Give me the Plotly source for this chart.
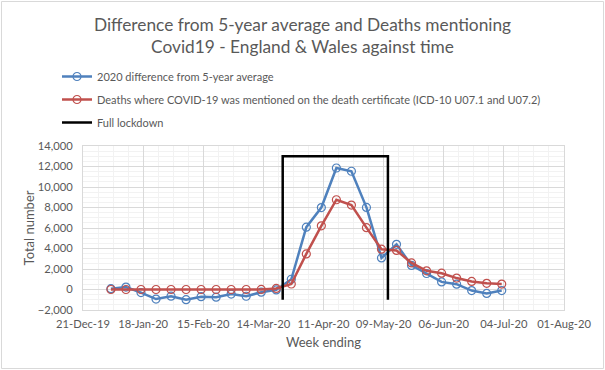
import plotly.graph_objects as go

# ---- data ----
week_ending = [
    "2020-01-03", "2020-01-10", "2020-01-17", "2020-01-24", "2020-01-31",
    "2020-02-07", "2020-02-14", "2020-02-21", "2020-02-28", "2020-03-06",
    "2020-03-13", "2020-03-20", "2020-03-27", "2020-04-03", "2020-04-10",
    "2020-04-17", "2020-04-24", "2020-05-01", "2020-05-08", "2020-05-15",
    "2020-05-22", "2020-05-29", "2020-06-05", "2020-06-12", "2020-06-19",
    "2020-06-26", "2020-07-03",
]
diff_5yr_avg = [
    79, 236, -300, -930, -650, -990, -700, -750, -450, -660,
    -260, -40, 1000, 6082, 7996, 11854, 11539, 8012, 3081, 4410,
    2350, 1560, 740, 520, -100, -380, -100,
]
covid_deaths = [
    0, 0, 0, 0, 0, 0, 0, 0, 0, 0,
    5, 103, 539, 3475, 6213, 8758, 8237, 6035, 3930, 3810,
    2589, 1822, 1588, 1114, 783, 606, 532,
]
lockdown_x = ["2020-03-23", "2020-03-23", "2020-05-11", "2020-05-11"]
lockdown_y = [-1000, 13000, 13000, -1000]

y_ticks = [-2000, 0, 2000, 4000, 6000, 8000, 10000, 12000, 14000]

# ---- style ----
W, H = 605, 370
ML, MR, MT, MB = 83, 41, 146, 60
TXT = "#595959"
GRID = "#d9d9d9"
MINOR = "#f2f2f2"
FONT = "Lato"
DAY = 86400000

fig = go.Figure()
fig.add_trace(go.Scatter(
    x=week_ending, y=diff_5yr_avg, mode="lines+markers",
    name="2020 difference from 5-year average", legendgroup="a",
    line=dict(color="#4F81BD", width=2.5),
    marker=dict(symbol="circle-open", size=8, color="#4F81BD", line=dict(width=1.2)),
))
fig.add_trace(go.Scatter(
    x=week_ending, y=covid_deaths, mode="lines+markers",
    name="Deaths where COVID-19 was mentioned on the death certificate (ICD-10 U07.1 and U07.2)",
    legendgroup="b",
    line=dict(color="#C0504D", width=2.5),
    marker=dict(symbol="circle-open", size=8, color="#C0504D", line=dict(width=1.2)),
))
fig.add_trace(go.Scatter(
    x=lockdown_x, y=lockdown_y, mode="lines", name="Full lockdown", legendgroup="c",
    line=dict(color="#000000", width=2.5),
))

pw = W - ML - MR
ph = H - MT - MB
fig.add_shape(
    type="rect", xref="paper", yref="paper",
    x0=(1.5 - ML) / pw, x1=(W - 1.5 - ML) / pw,
    y0=(ph + MT - (H - 1.5)) / ph, y1=(ph + MT - 1.5) / ph,
    line=dict(color=GRID, width=1), fillcolor="rgba(0,0,0,0)", layer="below",
)

fig.update_layout(
    width=W, height=H,
    margin=dict(l=ML, r=MR, t=MT, b=MB, autoexpand=False),
    paper_bgcolor="white", plot_bgcolor="white",
    font=dict(family=FONT, size=11, color=TXT),
    title=dict(
        text="Difference from 5-year average and Deaths mentioning<br>Covid19 - England & Wales against time",
        x=0.5, xref="container", xanchor="center",
        y=1 - 31 / H, yref="container", yanchor="top",
        font=dict(family=FONT, size=17.3, color=TXT),
        automargin=False,
    ),
    showlegend=True,
    legend=dict(
        x=(57 - ML) / pw, xanchor="left",
        y=(ph + MT - 62) / ph, yanchor="top",
        font=dict(family=FONT, size=11, color=TXT),
        tracegroupgap=4, bgcolor="rgba(0,0,0,0)",
    ),
    xaxis=dict(
        type="date",
        range=["2019-12-21", "2020-08-01"],
        tick0="2019-12-21", dtick=28 * DAY,
        tickformat="%d-%b-%y",
        automargin=False,
        showgrid=True, gridcolor=GRID, gridwidth=1,
        minor=dict(dtick=7 * DAY, tick0="2019-12-21", showgrid=True, gridcolor=MINOR),
        showline=True, linecolor=GRID, mirror=True,
        ticks="", ticklabelstandoff=4,
        tickfont=dict(family=FONT, size=11.2, color=TXT),
        title=dict(text="Week ending", font=dict(family=FONT, size=13, color=TXT), standoff=8),
        zeroline=False,
    ),
    yaxis=dict(
        range=[-2000, 14000],
        tickvals=y_ticks, tickformat=",",
        automargin=False,
        showgrid=True, gridcolor=GRID, gridwidth=1,
        minor=dict(dtick=500, showgrid=True, gridcolor=MINOR),
        showline=True, linecolor=GRID, mirror=True,
        zeroline=True, zerolinecolor=GRID, zerolinewidth=1,
        ticks="", ticklabelstandoff=7,
        tickfont=dict(family=FONT, size=11.2, color=TXT),
        title=dict(text="Total number", font=dict(family=FONT, size=13, color=TXT), standoff=0),
    ),
)

fig.write_html(
    "out.html",
    config={"displayModeBar": False},
    post_script="document.body.style.margin='0';",
)
